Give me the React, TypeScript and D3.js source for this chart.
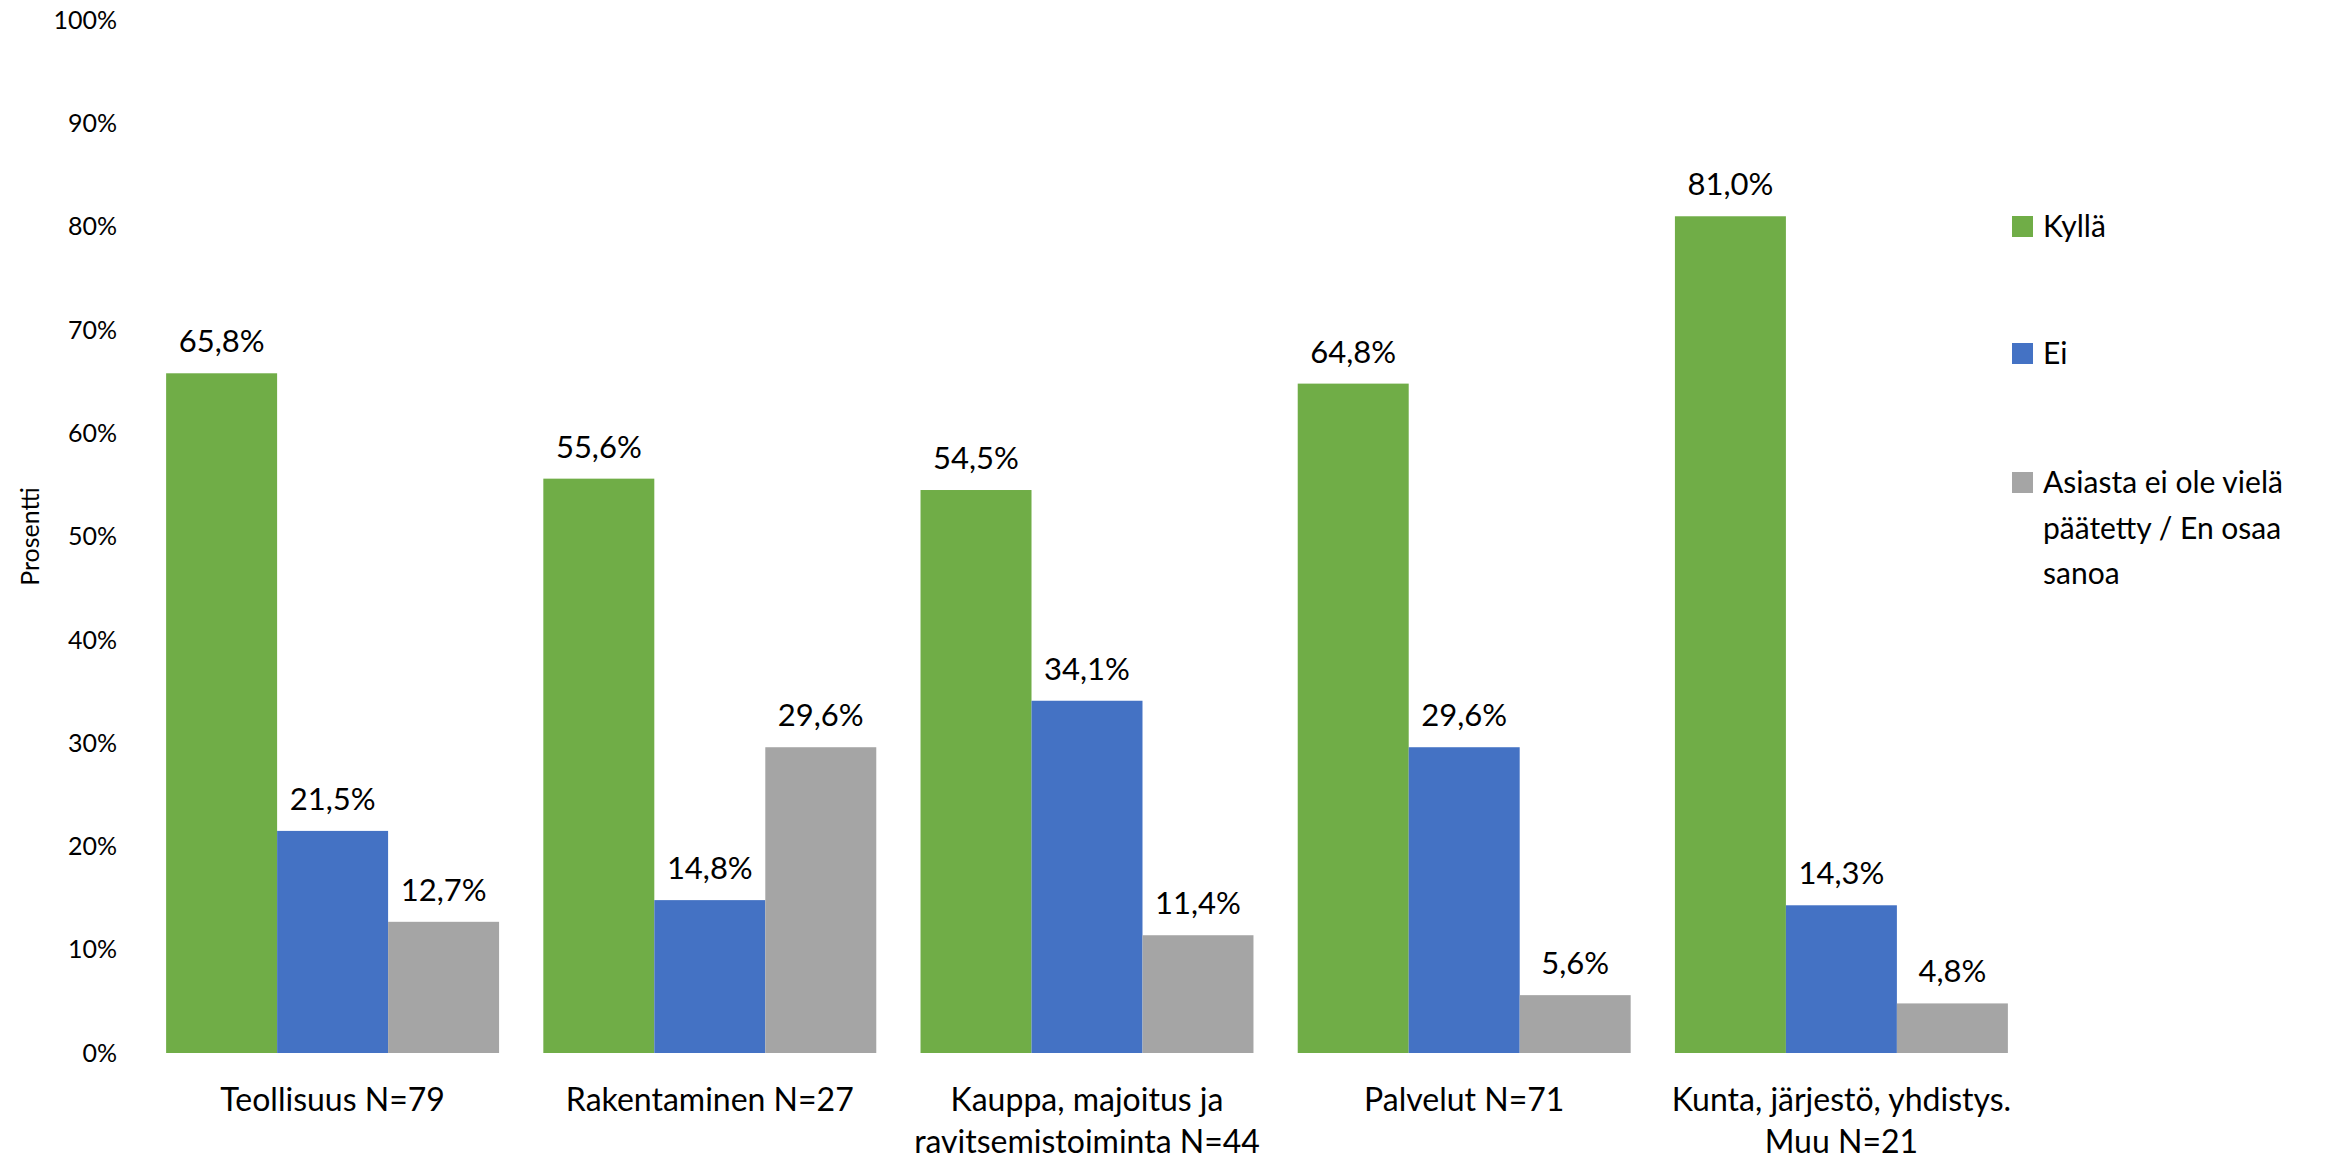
import { useEffect } from 'react';
import * as d3 from 'd3';

const categories = ['Teollisuus N=79', 'Rakentaminen N=27', 'Kauppa, majoitus ja ravitsemistoiminta N=44', 'Palvelut N=71', 'Kunta, järjestö, yhdistys. Muu N=21'];
const categoryLines = [
  ['Teollisuus N=79'],
  ['Rakentaminen N=27'],
  ['Kauppa, majoitus ja', 'ravitsemistoiminta N=44'],
  ['Palvelut N=71'],
  ['Kunta, järjestö, yhdistys.', 'Muu N=21'],
];
const seriesNames = ['Kyllä', 'Ei', 'Asiasta ei ole vielä päätetty / En osaa sanoa'];
const legendLines = [['Kyllä'], ['Ei'], ['Asiasta ei ole vielä', 'päätetty / En osaa', 'sanoa']];
const kylla = [65.8, 55.6, 54.5, 64.8, 81.0];
const ei = [21.5, 14.8, 34.1, 29.6, 14.3];
const asiasta = [12.7, 29.6, 11.4, 5.6, 4.8];
const yTicks = [0, 10, 20, 30, 40, 50, 60, 70, 80, 90, 100];
const colors = ['#70AD47', '#4472C4', '#A5A5A5'];

const W = 2348;
const H = 1162;
const FONT = 'Lato, "Open Sans", sans-serif';

export default function App() {
  useEffect(() => {
    document.body.style.margin = '0';
  }, []);

  const values = [kylla, ei, asiasta];

  const y = d3.scaleLinear().domain([0, 100]).range([1053, 20]);
  const x0 = d3.scaleBand<string>()
    .domain(categories)
    .range([144, 2030])
    .paddingInner(0.1173)
    .paddingOuter(0.1173 / 2);
  const x1 = d3.scaleBand<string>()
    .domain(seriesNames)
    .range([0, x0.bandwidth()]);

  const fmt = (v: number) => v.toFixed(1).replace('.', ',') + '%';

  return (
    <svg width={W} height={H} style={{ display: 'block', background: '#fff' }} fontFamily={FONT}>
      {/* y axis labels */}
      {yTicks.map(t => (
        <text key={t} x={117} y={y(t)} dy="0.35em" textAnchor="end" fontSize={25} fill="#000">
          {t}%
        </text>
      ))}
      <text
        transform={`translate(30,${(y(0) + y(100)) / 2}) rotate(-90)`}
        textAnchor="middle"
        dy="0.35em"
        fontSize={25}
        fill="#000"
      >
        Prosentti
      </text>

      {/* bars */}
      {categories.map((c, i) => (
        <g key={c} transform={`translate(${x0(c)},0)`}>
          {seriesNames.map((s, j) => {
            const v = values[j][i];
            const bx = x1(s)!;
            return (
              <g key={s}>
                <rect x={bx} y={y(v)} width={x1.bandwidth()} height={y(0) - y(v)} fill={colors[j]} />
                <text x={bx + x1.bandwidth() / 2} y={y(v) - 21} textAnchor="middle" fontSize={31} fill="#000">
                  {fmt(v)}
                </text>
              </g>
            );
          })}
          {categoryLines[i].map((line, k) => (
            <text key={k} x={x0.bandwidth() / 2} y={1111 + k * 42} textAnchor="middle" fontSize={32} fill="#000">
              {line}
            </text>
          ))}
        </g>
      ))}

      {/* legend */}
      {seriesNames.map((s, j) => {
        const base = [237, 364, 493][j];
        return (
          <g key={s}>
            <rect x={2012} y={base - 21} width={21} height={21} fill={colors[j]} />
            {legendLines[j].map((line, k) => (
              <text key={k} x={2043} y={base + k * 45.5} fontSize={30} fill="#000">
                {line}
              </text>
            ))}
          </g>
        );
      })}
    </svg>
  );
}
